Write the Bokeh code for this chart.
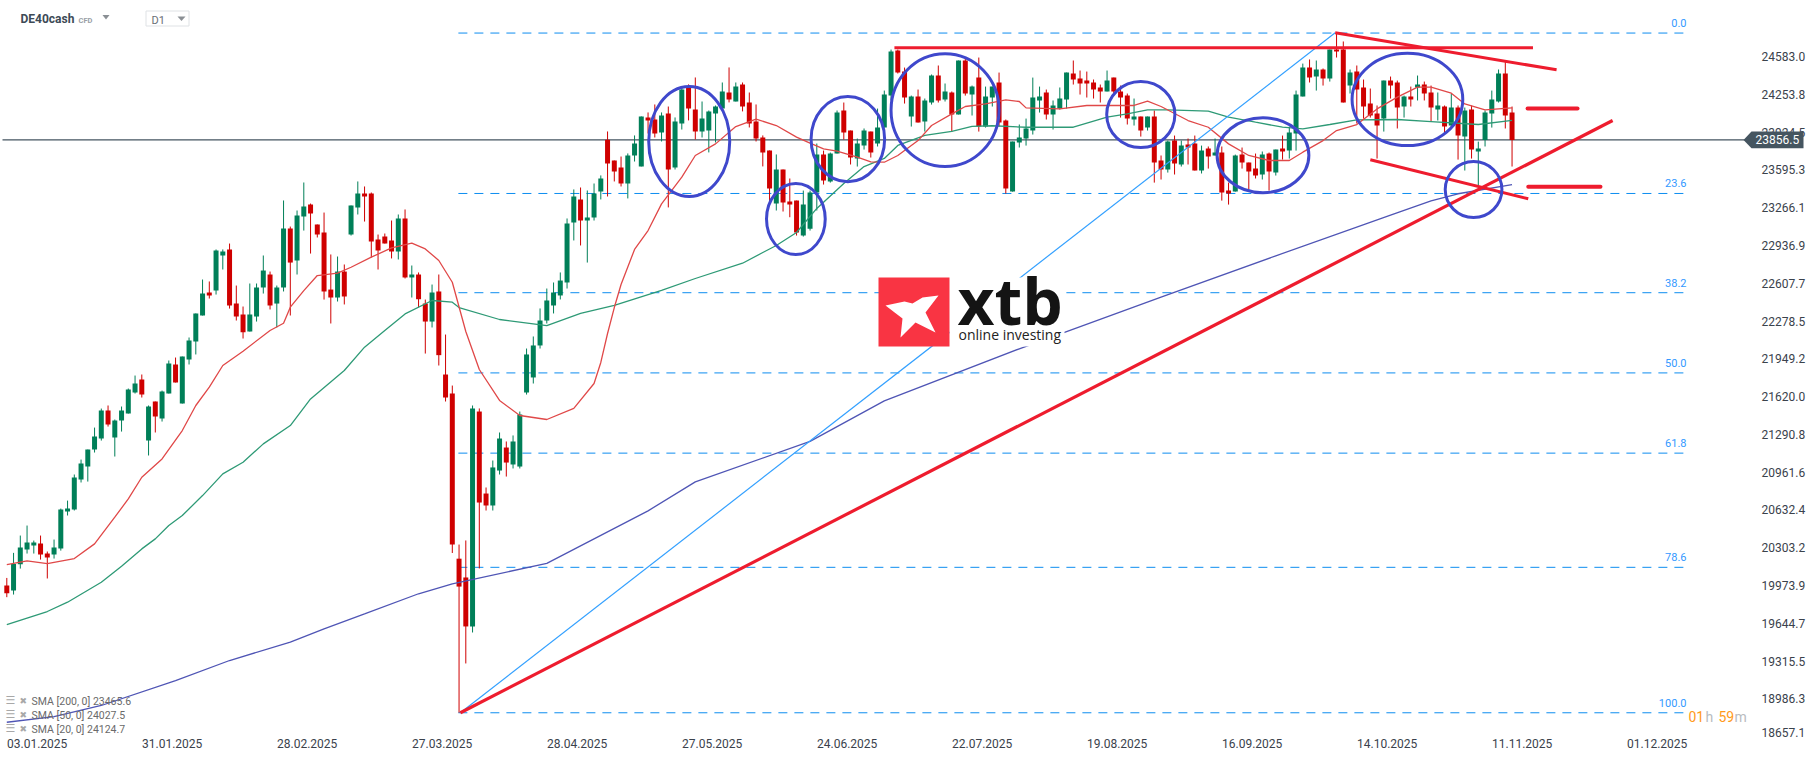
from bokeh.core.properties import value
from bokeh.embed import file_html
from bokeh.resources import INLINE
from bokeh.plotting import figure
from bokeh.models import LinearAxis, FixedTicker, NumeralTickFormatter, Range1d

# ---------- OHLC ----------
opens = [19944,19900,20131,20260,20295,20313,20225,20216,20269,20594,20611,20875,20989,21138,21235,21481,21244,21393,21454,21639,
21753,21217,21560,21411,21630,21885,21542,21929,22087,22315,22517,22535,22842,22895,22420,22324,22174,22306,22561,22675,
22420,22561,23079,22798,23184,23290,23114,23044,22543,22473,22701,23026,23263,23386,23386,22982,23009,22974,22877,23167,
22649,22675,22420,22262,22526,21797,21630,20180,20015,19585,21472,20752,20647,20954,21156,21007,20989,21639,21771,22052,
22271,22403,22491,22605,23132,23334,23149,23176,23404,23858,23676,23615,23474,23720,23624,24054,24036,23922,24089,23615,
24001,24317,24124,23931,23940,24089,24133,24273,24194,24344,24186,24019,23878,23764,23299,23597,23316,23324,23017,23076,
23395,23728,23491,23737,24115,23939,23693,23807,23930,23825,23965,24246,24642,24457,24062,24238,24018,24185,24422,24211,
24273,24080,24554,24255,24404,23974,24229,24361,24027,23403,23834,23869,23939,24203,24273,24080,24132,24211,24440,24396,
24378,24361,24317,24282,24404,24282,24246,24036,24062,23965,24062,23676,23597,23851,23641,23816,23825,23588,23781,23720,
23746,23412,23403,23728,23658,23605,23553,23737,23570,23781,23763,23913,24238,24492,24413,24475,24396,24650,24650,24334,
24457,24317,24176,24088,24044,24378,24361,24150,24238,24317,24343,24273,24123,24150,23983,24141,23886,24123,23755,23857,
24088,24194,24440,24097]
highs = [20011,20231,20383,20471,20339,20383,20243,20348,20620,20690,20919,21050,21138,21331,21498,21525,21402,21516,21674,21788,
21797,21525,21560,21656,21920,21946,21955,22122,22333,22631,22614,22895,22895,22947,22578,22394,22596,22596,22842,22701,
22578,23325,23096,23237,23483,23298,23114,23219,22851,22833,22763,23281,23492,23448,23395,23026,23035,23149,23202,23246,
22754,22693,22455,22587,22675,22148,21700,20304,20340,21525,21499,20805,21042,21288,21209,21262,21472,22025,22131,22377,
22552,22605,22693,23167,23422,23439,23413,23474,23545,23931,23676,23711,23738,23896,24063,24098,24168,24098,24150,24054,
24317,24344,24405,24194,24115,24159,24361,24493,24361,24361,24273,24168,23896,23764,23729,23597,23518,23324,23412,23412,
23825,23763,23746,24115,24185,23939,23869,23957,23930,24132,24290,24650,24650,24492,24246,24299,24220,24431,24510,24352,
24282,24554,24571,24334,24580,24325,24325,24448,24036,23842,23992,24044,24404,24325,24299,24203,24317,24448,24554,24466,
24457,24387,24343,24466,24404,24334,24264,24220,24062,24062,24115,23720,23851,23895,23851,23869,23895,23807,23799,23869,
23799,23482,23728,23790,23658,23737,23755,23746,23772,23895,23974,24290,24527,24563,24554,24484,24650,24800,24721,24475,
24510,24387,24308,24159,24378,24413,24378,24246,24325,24422,24369,24334,24273,24159,24264,24159,24141,24159,23842,24115,
24290,24475,24554,24150]
lows = [19842,19865,20093,20225,20225,20172,20006,20181,20251,20559,20603,20849,20857,21112,21217,21340,21077,21296,21454,21630,
21595,21086,21288,21384,21630,21727,21542,21885,21973,22315,22464,22499,22719,22376,22271,22113,22174,22262,22508,22368,
22210,22526,22315,22675,23061,22859,23000,22455,22245,22438,22412,23017,23202,23140,22824,22719,22947,22816,22807,22640,
22473,22385,21981,22210,21876,21560,20230,18827,19260,19532,20094,20603,20603,20919,20901,20972,20972,21621,21718,22025,
22245,22333,22456,22552,22974,22930,22780,23149,23334,23360,23492,23448,23343,23667,23624,23913,23878,23843,23264,23597,
23948,24028,23861,23878,23747,23834,24133,24186,24194,24107,23966,23843,23624,23299,23237,23228,23178,23017,23008,23061,
23237,23465,23482,23737,23860,23641,23623,23772,23702,23799,23965,24203,24440,24176,23974,24009,23930,24167,24185,24194,
23930,24080,24246,24071,23930,23965,24150,23974,23386,23403,23790,23807,23904,24097,24036,23948,24123,24132,24343,24255,
24229,24220,24185,24282,24255,24053,23992,23983,23886,23939,23482,23509,23570,23553,23623,23641,23588,23562,23605,23720,
23324,23289,23403,23605,23421,23518,23509,23412,23544,23684,23693,23763,24238,24361,24290,24334,24369,24580,24185,24264,
24001,24044,24053,23693,23930,24220,23957,24053,24150,24203,24203,24018,24027,23913,23965,23684,23588,23693,23456,23799,
23965,24185,23957,23623]
closes = [19877,20134,20278,20322,20322,20216,20190,20278,20611,20620,20892,21015,21138,21252,21481,21358,21393,21481,21665,21718,
21621,21516,21428,21648,21893,21727,21955,22095,22333,22508,22491,22886,22877,22403,22306,22169,22324,22561,22710,22403,
22561,23079,22780,23193,23272,23211,23026,22526,22473,22701,22482,23281,23386,23360,22965,22886,22947,22877,23167,22649,
22675,22458,22262,22517,21967,21595,20304,19935,19585,21499,20673,20647,20981,21235,21024,21209,21446,21973,22052,22271,
22447,22517,22622,23123,23360,23149,23176,23387,23518,23650,23580,23474,23720,23826,24063,24028,23913,24071,23597,24019,
24300,24133,23931,24045,24107,24150,24282,24212,24326,24150,24001,23869,23747,23430,23597,23307,23289,23043,23289,23395,
23728,23500,23737,24097,23922,23702,23825,23939,23746,23965,24255,24633,24448,24229,24238,24009,24203,24422,24203,24282,
24080,24554,24264,24325,23974,24238,24325,24009,23430,23842,23878,23957,24229,24238,24080,24159,24220,24448,24387,24352,
24352,24299,24282,24378,24282,24229,24044,24062,23939,24062,23658,23597,23842,23649,23807,23790,23588,23763,23711,23746,
23395,23386,23720,23658,23579,23544,23728,23579,23772,23755,23922,24255,24492,24404,24475,24396,24650,24633,24185,24448,
24299,24150,24071,23983,24378,24334,24141,24238,24211,24343,24264,24141,24159,23974,24141,23895,24115,23772,23781,24097,
24211,24440,24071,23856.5]
dates = ["03.01.2025","31.01.2025","28.02.2025","27.03.2025","28.04.2025","27.05.2025","24.06.2025",
         "22.07.2025","19.08.2025","16.09.2025","14.10.2025","11.11.2025","01.12.2025"]
date_idx = [0,20,40,60,80,100,120,140,160,180,200,220,240]

# ---------- moving averages ----------
sma20_i = [0,3,6,10,13,16,18,20,23,26,28,30,32,35,39,41,42,44,46,49,51,54,57,60,62,64,66,68,70,73,76,80,84,87,88,89,90,91,93,95,97,100,102,105,108,111,114,117,119,121,123,126,128,130,132,135,137,140,142,145,148,150,151,156,160,164,167,169,171,175,178,181,184,187,190,192,195,197,200,203,206,209,211,214,216,219,223]
sma20 = [20128,20161,20137,20181,20310,20544,20705,20895,21056,21305,21525,21686,21876,22002,22183,22247,22388,22534,22666,22687,22739,22827,22909,22950,22900,22798,22607,22175,21841,21569,21437,21402,21499,21718,21903,22157,22385,22587,22895,23061,23295,23530,23720,23822,23974,24039,23983,23881,23828,23778,23758,23705,23664,23661,23720,23851,23983,24085,24150,24173,24208,24194,24138,24129,24159,24159,24159,24197,24150,24027,23968,23822,23720,23676,23676,23749,23851,23939,23992,24129,24232,24320,24320,24267,24173,24121,24138]
sma50_i = [0,6,9,14,17,20,22,24,26,29,32,35,38,42,45,50,53,56,59,63,66,67,73,80,85,90,97,102,109,112,114,117,120,124,127,130,132,136,140,143,146,151,158,163,166,169,172,178,181,185,189,192,196,200,206,211,218,223]
sma50 = [19602,19716,19798,19973,20114,20266,20354,20471,20559,20734,20925,21027,21188,21349,21583,21832,22037,22183,22329,22447,22432,22385,22280,22227,22333,22403,22535,22640,22774,22868,22930,23044,23255,23474,23623,23694,23808,23896,23931,23975,23981,23968,23968,24056,24086,24121,24121,24109,24056,24012,23969,23954,23992,24033,24036,24018,23992,24028]
sma200_i = [0,7,14,25,33,42,47,53,61,66,80,95,102,119,130,150,171,188,205,211,215,223]
sma200 = [18744,18794,18891,19110,19286,19447,19564,19695,19872,19959,20139,20600,20854,21210,21566,22023,22476,22839,23196,23322,23384,23465]

# ---------- levels and drawn studies ----------
last_price = 23856.5
fib_top = 24795
fib_bottom = 18827
fib_names = ["0.0","23.6","38.2","50.0","61.8","78.6","100.0"]
fib_ratios = [0,0.236,0.382,0.5,0.618,0.786,1.0]
fib_span = [66.9,248.4]
y_ticks = [24583.0,24253.8,23924.5,23595.3,23266.1,22936.9,22607.7,22278.5,21949.2,21620.0,21290.8,20961.6,20632.4,20303.2,19973.9,19644.7,19315.5,18986.3]
bottom_tick_label = "18657.1"
ell_x = [101.1,116.9,124.6,139.0,168.0,186.1,207.5,217.3]
ell_y = [23843,23162,23863,24118,24080,23722,24212,23421]
ell_w = [12.0,8.7,10.9,16.0,10.1,13.6,16.4,8.4]
ell_h = [966,623,749,990,580,658,810,492]
res_x = [131.5,226.1]; res_y = [24666,24666]
fall_top_x = [196.8,229.6]; fall_top_y = [24797,24472]
fall_low_x = [202.0,225.4]; fall_low_y = [23682,23340]
trend_x = [67.2,237.9]; trend_y = [18827,24027]
fib_link_x = [67.2,196.8]; fib_link_y = [18827,24797]
short1_x = [225.3,232.7]; short1_y = [24133,24133]
short2_x = [225.4,236.1]; short2_y = [23445,23445]
legend_rows = ["SMA  [200,  0]  23465.6","SMA  [50,  0]  24027.5","SMA  [20,  0]  24124.7"]

# ---------- axis calibration ----------
# The readings above used 8.78 points per pixel; the axis ticks give 8.714.
READ_K, AXIS_K, TOP_TICK = 8.78, 8.714, 24583.0
def cal(v):
    return TOP_TICK - ((TOP_TICK - v) / READ_K + 0.6) * AXIS_K
opens, highs, lows, closes = [[cal(v) for v in s] for s in (opens, highs, lows, closes)]
sma20, sma50, sma200 = [[cal(v) for v in s] for s in (sma20, sma50, sma200)]
ell_y = [cal(v) for v in ell_y]
ell_h = [v * AXIS_K / READ_K for v in ell_h]
res_y, fall_top_y, fall_low_y, trend_y, fib_link_y, short1_y, short2_y = [
    [cal(v) for v in s] for s in (res_y, fall_top_y, fall_low_y, trend_y, fib_link_y, short1_y, short2_y)]
fib_top, fib_bottom = cal(fib_top), cal(fib_bottom)

# ---------- page pixel <-> data mapping of the frame ----------
W, H = 1815, 761
def X(px): return (px - 6.3) / 6.75
def Y(py): return TOP_TICK - (py - 56.1) * AXIS_K

RED, GREEN = "#cf0000", "#007f58"
ROBOTO = value("Roboto")
OPEN = value("Open Sans")
DEJA = value("DejaVu Sans")

p = figure(width=W, height=H, output_backend="svg", toolbar_location=None, tools="",
           x_range=Range1d(X(0), X(W)), y_range=Range1d(Y(H), Y(0)),
           x_axis_location=None, y_axis_location=None, min_border=0, outline_line_color=None,
           background_fill_color="white", border_fill_color="white")
p.grid.visible = False

# axes (the lowest label sits squeezed above its true place, as in the reference)
bottom_tick = Y(731.7)
yax = LinearAxis(ticker=FixedTicker(ticks=y_ticks + [bottom_tick]), formatter=NumeralTickFormatter(format="0.0"),
                 major_label_overrides={bottom_tick: bottom_tick_label},
                 fixed_location=X(1750), axis_line_color=None, major_tick_line_color=None,
                 minor_tick_line_color=None, major_label_standoff=5,
                 major_label_text_font="Roboto", major_label_text_font_size="12px",
                 major_label_text_color="#3a424c")
p.add_layout(yax, "right")
x_ticks = [i + 4.5 for i in date_idx]
xax = LinearAxis(ticker=FixedTicker(ticks=x_ticks),
                 major_label_overrides={t: d for t, d in zip(x_ticks, dates)},
                 fixed_location=Y(728), axis_line_color=None, major_tick_line_color=None,
                 minor_tick_line_color=None, major_label_standoff=4,
                 major_label_text_font="Roboto", major_label_text_font_size="12px",
                 major_label_text_color="#3a424c")
p.add_layout(xax, "below")

# fibonacci
fib_levels = [fib_top - r * (fib_top - fib_bottom) for r in fib_ratios]
p.segment([fib_span[0]] * 7, fib_levels, [fib_span[1]] * 7, fib_levels, line_color="#0d8df0",
          line_width=1, line_dash=value("9 7"))
p.text([X(1686)] * 7, fib_levels, text=fib_names, text_font=ROBOTO, text_font_size="11px",
       text_color="#3399ff", text_align="right", text_baseline="bottom", y_offset=-6)

# last price line
p.segment([X(2)], [last_price], [X(1745)], [last_price], line_color="#455560", line_width=1.2)

# candles
idx = list(range(len(closes)))
colors = [GREEN if c >= o else RED for o, c in zip(opens, closes)]
p.segment(idx, highs, idx, lows, line_color=colors, line_width=1)
p.vbar(idx, 0.74, [max(o, c) for o, c in zip(opens, closes)], [min(o, c) for o, c in zip(opens, closes)],
       fill_color=colors, line_color=None)

# moving averages
p.line(sma200_i, sma200, line_color="#4f55b5", line_width=1.3)
p.line(sma50_i, sma50, line_color="#2e9a76", line_width=1.3)
p.line(sma20_i, sma20, line_color="#e04848", line_width=1.3)

# drawn studies
p.line(fib_link_x, fib_link_y, line_color="#33a0ff", line_width=1.2)
STUDY = "#ee1c2e"
p.line(res_x, res_y, line_color=STUDY, line_width=3)
p.line(fall_top_x, fall_top_y, line_color=STUDY, line_width=3)
p.line(fall_low_x, fall_low_y, line_color=STUDY, line_width=3)
p.line(trend_x, trend_y, line_color=STUDY, line_width=3.2)
p.line(short1_x, short1_y, line_color=STUDY, line_width=4, line_cap="round")
p.line(short2_x, short2_y, line_color=STUDY, line_width=4, line_cap="round")
p.ellipse(ell_x, ell_y, width=ell_w, height=ell_h, fill_color=None, line_color="#3f48cc", line_width=3)

# logo: opaque panel over the lines
p.quad(left=[X(949)], right=[X(1064)], top=[Y(277)], bottom=[Y(346)], fill_color="white", line_color=None)
p.quad(left=[X(878)], right=[X(949)], top=[Y(277)], bottom=[Y(346)], fill_color="#f93443", line_color=None)
mark_px = [885,904,912,922,938,925,935,915,900,902]
mark_py = [305,301,303,297,295,312,332,322,337,318]
p.patch([X(a) for a in mark_px], [Y(b) for b in mark_py], fill_color="white", line_color=None)
p.text([X(957)], [Y(300)], text=["xtb"], text_font=OPEN, text_font_style="bold", text_font_size="64px",
       text_color="#141414", text_baseline="middle")
p.text([X(958)], [Y(334)], text=["online investing"], text_font=OPEN, text_font_size="14px",
       text_color="#222222", text_baseline="middle")

# header
p.text([X(20)], [Y(18.7)], text=["DE40cash"], text_font=ROBOTO, text_font_style="bold", text_font_size="12px",
       text_color="#3d4a56", text_baseline="middle")
p.text([X(78)], [Y(19.5)], text=["CFD"], text_font=ROBOTO, text_font_style="bold", text_font_size="7.5px",
       text_color="#9aa0a6", text_baseline="middle")
p.quad(left=[X(145.5)], right=[X(188.5)], top=[Y(10.5)], bottom=[Y(25.5)], fill_color="white", line_color="#dfe2e5")
p.text([X(151)], [Y(19.5)], text=["D1"], text_font=ROBOTO, text_font_size="11px", text_color="#6a7076",
       text_baseline="middle")
p.patches([[X(102), X(109), X(105.5)], [X(177), X(185), X(181)]],
          [[Y(14.5), Y(14.5), Y(19)], [Y(16), Y(16), Y(20.5)]], fill_color="#8a8f94", line_color=None)

# indicator legend
rows_py = [700.7, 714.7, 728.7]
p.text([X(31)] * 3, [Y(v) for v in rows_py], text=legend_rows, text_font=ROBOTO, text_font_size="10.5px",
       text_color="#6a6a6a", text_baseline="middle")
p.text([X(19)] * 3, [Y(v) for v in rows_py], text=["\u2716"] * 3, text_font=DEJA, text_font_size="9px",
       text_color="#a8a8a8", text_baseline="middle")
p.text([X(5)] * 3, [Y(v - 1) for v in rows_py], text=["\u2630"] * 3, text_font=DEJA, text_font_size="11px",
       text_color="#a8a8a8", text_baseline="middle")

# countdown
p.text([X(1688)], [Y(716)], text=["01"], text_font=ROBOTO, text_font_size="14px", text_color="#ff9a1a", text_baseline="middle")
p.text([X(1705)], [Y(716)], text=["h"], text_font=ROBOTO, text_font_size="14px", text_color="#b8bcc0", text_baseline="middle")
p.text([X(1718)], [Y(716)], text=["59"], text_font=ROBOTO, text_font_size="14px", text_color="#ff9a1a", text_baseline="middle")
p.text([X(1734)], [Y(716)], text=["m"], text_font=ROBOTO, text_font_size="14px", text_color="#b8bcc0", text_baseline="middle")

# price tag above the axis
tag = p.patch([X(1743), X(1751), X(1803), X(1803), X(1751)],
              [last_price, Y(131), Y(131), Y(147.7), Y(147.7)], fill_color="#455560", line_color=None)
tag.level = "overlay"
tag_text = p.text([X(1755)], [last_price], text=[f"{last_price:.1f}"], text_font=ROBOTO, text_font_size="12px",
                  text_color="white", text_baseline="middle")
tag_text.level = "overlay"

open("out.html", "w").write(file_html(p, INLINE))
